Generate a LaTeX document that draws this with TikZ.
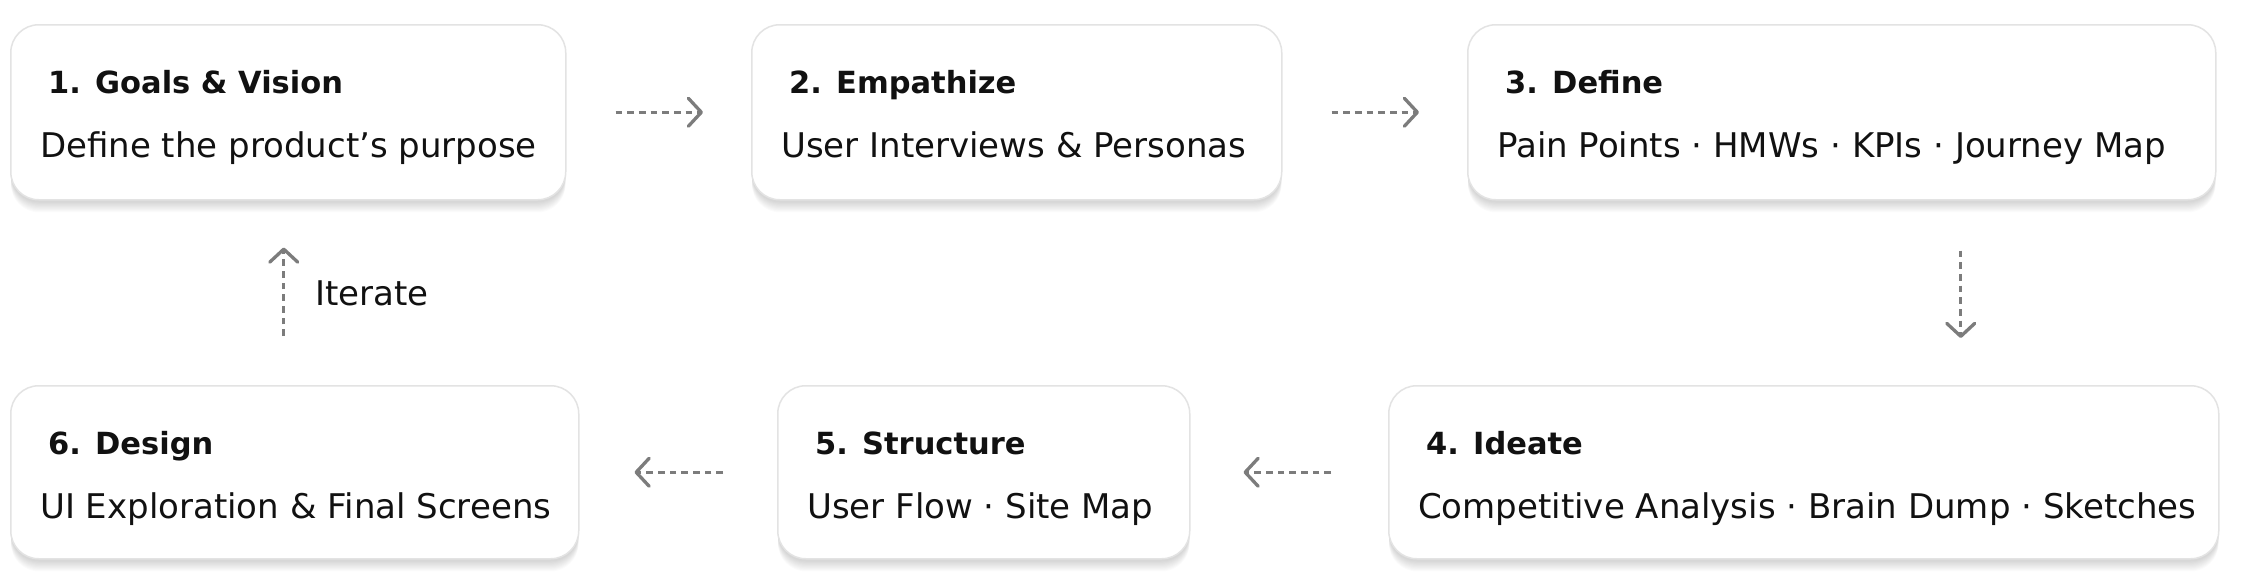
\documentclass[tikz,border=0pt]{standalone}
\usepackage{fontspec}
\setmainfont{DejaVu Sans}
\usetikzlibrary{arrows.meta,backgrounds}
\definecolor{arrowgray}{HTML}{7C7C7C}
\definecolor{boxborder}{HTML}{E3E3E3}
\definecolor{inktext}{HTML}{111111}
\tikzset{
  stagebox/.style={draw=boxborder, line width=1.5pt, fill=white, rounded corners=28pt, anchor=north west, inner sep=0pt},
  ttl/.style={anchor=base west, inner sep=0pt, text=inktext, font=\fontsize{30.5pt}{36pt}\selectfont\bfseries},
  sub/.style={anchor=base west, inner sep=0pt, text=inktext, font=\fontsize{34pt}{40pt}\selectfont},
  flow/.style={draw=arrowgray, line width=3.3pt, dash pattern=on 6.7pt off 5pt, -{Straight Barb[length=13pt,width=28pt,round]}}
}
\begin{document}
\begin{tikzpicture}[x=1pt,y=-1pt]
\useasboundingbox (0,0) rectangle (2244,584);
% boxes
\node[stagebox, minimum width=555pt, minimum height=175pt] (b1) at (10,24) {};
\node[stagebox, minimum width=530pt, minimum height=175pt] (b2) at (751,24) {};
\node[stagebox, minimum width=748pt, minimum height=175pt] (b3) at (1467,24) {};
\node[stagebox, minimum width=830pt, minimum height=173pt] (b4) at (1388,385) {};
\node[stagebox, minimum width=412pt, minimum height=173pt] (b5) at (777,385) {};
\node[stagebox, minimum width=568pt, minimum height=173pt] (b6) at (10,385) {};
% soft shadows
\begin{scope}[on background layer]
\fill[white] (0,0) rectangle (2244,584);
\foreach \b in {b1,b2,b3,b4,b5,b6}{
  \foreach \i in {0,...,9}{
    \fill[black, opacity=0.016, rounded corners=28pt]
      ([shift={(1pt,-\i*1.1pt-2pt)}]\b.south west) rectangle ([shift={(-1pt,-70pt)}]\b.north east);
  }
}
\end{scope}
% texts
\node[ttl] (t1) at ([xshift=38pt,yshift=-69pt]b1.north west) {1. Goals \& Vision};
\node[sub] (s1) at ([xshift=30pt,yshift=-133pt]b1.north west) {Define the product’s purpose};
\node[ttl] (t2) at ([xshift=38pt,yshift=-69pt]b2.north west) {2. Empathize};
\node[sub] (s2) at ([xshift=30pt,yshift=-133pt]b2.north west) {User Interviews \& Personas};
\node[ttl] (t3) at ([xshift=38pt,yshift=-69pt]b3.north west) {3. Define};
\node[sub] (s3) at ([xshift=30pt,yshift=-133pt]b3.north west) {Pain Points · HMWs · KPIs · Journey Map};
\node[ttl] (t4) at ([xshift=38pt,yshift=-69pt]b4.north west) {4. Ideate};
\node[sub] (s4) at ([xshift=30pt,yshift=-133pt]b4.north west) {Competitive Analysis · Brain Dump · Sketches};
\node[ttl] (t5) at ([xshift=38pt,yshift=-69pt]b5.north west) {5. Structure};
\node[sub] (s5) at ([xshift=30pt,yshift=-133pt]b5.north west) {User Flow · Site Map};
\node[ttl] (t6) at ([xshift=38pt,yshift=-69pt]b6.north west) {6. Design};
\node[sub] (s6) at ([xshift=30pt,yshift=-133pt]b6.north west) {UI Exploration \& Final Screens};
% connectors
\draw[flow, shorten <=49pt, shorten >=48pt] (b1.east) -- (b2.west);
\draw[flow, shorten <=49pt, shorten >=48pt] (b2.east) -- (b3.west);
\draw[flow, shorten <=50pt, shorten >=47pt] ([xshift=119pt]b3.south) -- ([xshift=157pt]b4.north);
\draw[flow, shorten <=57pt, shorten >=53pt] (b4.west) -- (b5.east);
\draw[flow, shorten <=54pt, shorten >=55pt] (b5.west) -- (b6.east);
\draw[flow, shorten <=49pt, shorten >=47pt] ([xshift=-11pt]b6.north) -- ([xshift=-4.5pt]b1.south);
\node[sub, anchor=west] (it) at (315,293) {Iterate};
\end{tikzpicture}
\end{document}
